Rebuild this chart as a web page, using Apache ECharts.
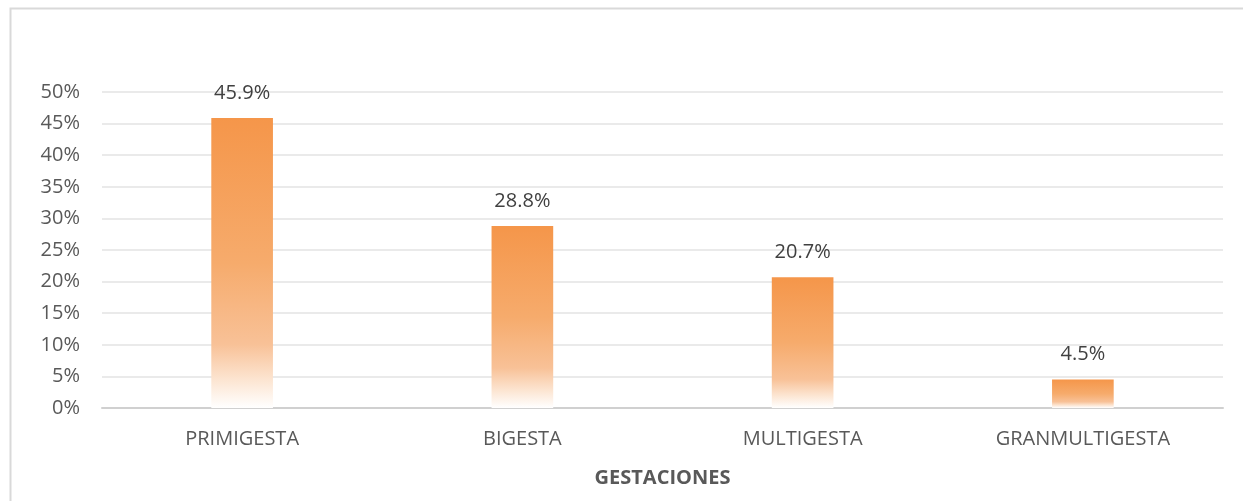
<!DOCTYPE html>
<html>
<head>
<meta charset="utf-8">
<script src="https://cdn.jsdelivr.net/npm/echarts@6/dist/echarts.min.js"></script>
<style>
  html, body { margin: 0; padding: 0; background: #fff; }
  #chart { width: 1243px; height: 501px; }
</style>
</head>
<body>
<div id="chart"></div>
<script>
// data
const categories = ["PRIMIGESTA", "BIGESTA", "MULTIGESTA", "GRANMULTIGESTA"];
const values = [45.9, 28.8, 20.7, 4.5];
const axisTitle = "GESTACIONES";

const chart = echarts.init(document.getElementById("chart"));

const barFill = new echarts.graphic.LinearGradient(0, 0, 0, 1, [
  { offset: 0, color: "#F5964A" },
  { offset: 0.5, color: "#F6AB6C" },
  { offset: 0.78, color: "#F8C197" },
  { offset: 0.9, color: "#FCE4D0" },
  { offset: 1, color: "#FFFFFF" }
]);

chart.setOption({
  animation: false,
  textStyle: { fontFamily: "Open Sans" },
  graphic: [
    {
      type: "rect",
      shape: { x: 10.5, y: 8.5, width: 1260, height: 520 },
      style: { fill: "none", stroke: "#D9D9D9", lineWidth: 2 },
      silent: true
    }
  ],
  grid: { left: 102, right: 20, top: 92, bottom: 93 },
  xAxis: {
    type: "category",
    data: categories,
    name: axisTitle,
    nameLocation: "middle",
    nameGap: 60,
    nameTextStyle: { fontSize: 20, fontWeight: "bold", color: "#595959" },
    axisTick: { show: false },
    axisLine: { lineStyle: { color: "#D0D0D0", width: 2 } },
    axisLabel: { fontSize: 20, color: "#595959", margin: 21 }
  },
  yAxis: {
    type: "value",
    min: 0,
    max: 50,
    interval: 5,
    axisLine: { show: false },
    axisTick: { show: false },
    splitLine: { lineStyle: { color: "#E3E3E3", width: 1.5 } },
    axisLabel: {
      fontSize: 20,
      color: "#595959",
      margin: 22,
      formatter: (v) => v + "%"
    }
  },
  series: [
    {
      type: "bar",
      data: values,
      barWidth: "22%",
      itemStyle: { color: barFill },
      label: {
        show: true,
        position: "top",
        distance: 15,
        fontSize: 20,
        color: "#404040",
        formatter: (p) => p.value.toFixed(1) + "%"
      }
    }
  ]
});
</script>
</body>
</html>
